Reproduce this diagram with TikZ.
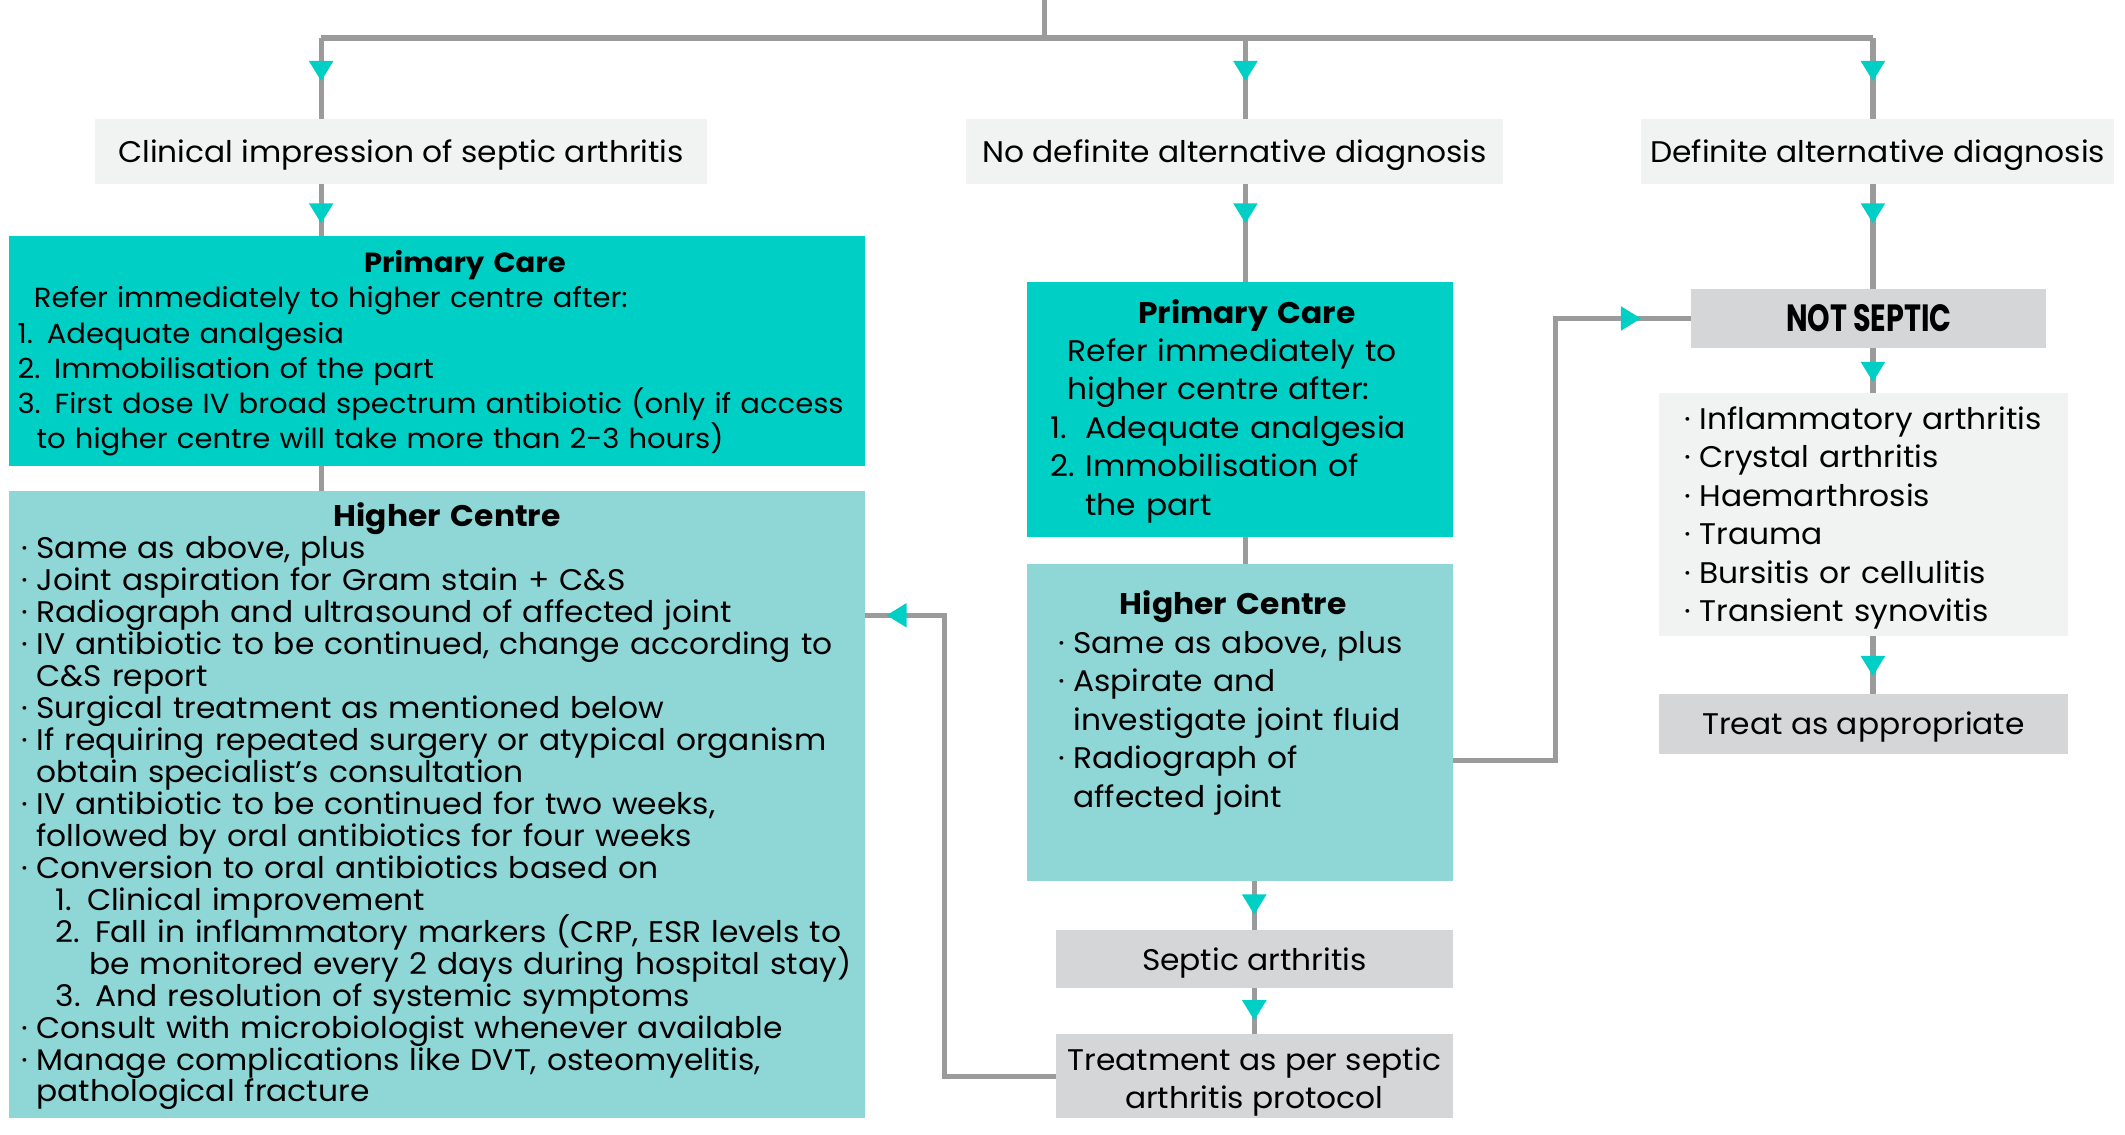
\documentclass[tikz,border=0pt]{standalone}
\usepackage{fontspec}
\setmainfont{Poppins}[FakeStretch=1.05]
\usepackage{tikz}
\usetikzlibrary{arrows.meta,decorations.markings}

\definecolor{tealdark}{HTML}{00CFC6}
\definecolor{teallight}{HTML}{8FD6D6}
\definecolor{greypale}{HTML}{F1F2F2}
\definecolor{greymid}{HTML}{D5D6D8}
\definecolor{wiregrey}{HTML}{9B9B9B}

\newcommand{\bul}{\makebox[5.5pt][l]{·}}
\newcommand{\ind}{\hspace*{5.5pt}}
\newcommand{\tstrut}[1]{\rule{0pt}{#1}}
\newcommand{\setfs}[2]{\fontsize{#1}{#2}\selectfont\lineskiplimit=-10pt}

\tikzset{
  box/.style={anchor=north west, inner sep=0pt, outer sep=0pt, font=\setfs{11}{13}},
  pale/.style={box, fill=greypale},
  mid/.style={box, fill=greymid},
  pcare/.style={box, fill=tealdark, align=left},
  hcentre/.style={box, fill=teallight, align=left},
  wire/.style={draw=wiregrey, line width=1.9pt},
  flow/.style={wire, postaction={decorate}, decoration={markings,
    mark=at position #1 with {\arrow{Triangle[width=8.5pt,length=7.5pt,color=tealdark]}}}}
}

\begin{document}
\begin{tikzpicture}[x=0.5pt, y=-0.5pt]
    \useasboundingbox (0,0) rectangle (1568,837);
    \node[pale, minimum width=226pt, minimum height=24pt] (clin) at (70,88) {\tstrut{11.1pt}Clinical impression of septic arthritis};
    \node[pale, minimum width=198pt, minimum height=24pt] (nodef) at (713,88) {\tstrut{11.1pt}No definite alternative diagnosis};
    \node[pale, minimum width=174.5pt, minimum height=24pt] (defalt) at (1211,88) {\tstrut{11.1pt}Definite alternative diagnosis};
    \node[pcare, text width=309.5pt, inner xsep=3pt, minimum height=85pt, font=\setfs{10.2}{13}] (lpc) at (7,174)
        {\makebox[\linewidth]{\hspace*{20.5pt}\tstrut{10pt}\textbf{Primary Care}}\\
         \hspace*{6pt}Refer immediately to higher centre after:\\
         1. Adequate analgesia\\
         2. Immobilisation of the part\\
         \mbox{3. First dose IV broad spectrum antibiotic (only if access}\\
         \hspace*{7pt}\mbox{to higher centre will take more than 2-3 hours)}};
    \node[hcentre, text width=306.5pt, inner xsep=4.5pt, minimum height=231.5pt, font=\setfs{11}{11.8}] (lhc) at (7,362)
        {\makebox[\linewidth]{\hspace*{7.5pt}\tstrut{10.2pt}\textbf{Higher Centre}}\\
         \bul Same as above, plus\\
         \bul Joint aspiration for Gram stain + C\&S\\
         \bul Radiograph and ultrasound of affected joint\\
         \bul \mbox{IV antibiotic to be continued, change according to}\\
         \ind C\&S report\\
         \bul Surgical treatment as mentioned below\\
         \bul \mbox{If requiring repeated surgery or atypical organism}\\
         \ind obtain specialist’s consultation\\
         \bul IV antibiotic to be continued for two weeks,\\
         \ind followed by oral antibiotics for four weeks\\
         \bul Conversion to oral antibiotics based on\\
         \hspace*{12.5pt}1. Clinical improvement\\
         \hspace*{12.5pt}\mbox{2. Fall in inflammatory markers (CRP, ESR levels to}\\
         \hspace*{25pt}\mbox{be monitored every 2 days during hospital stay)}\\
         \hspace*{12.5pt}3. And resolution of systemic symptoms\\
         \bul \mbox{Consult with microbiologist whenever available}\\
         \bul \mbox{Manage complications like DVT, osteomyelitis,}\\
         \ind pathological fracture};
    \node[pcare, text width=140pt, inner xsep=8.5pt, minimum height=94pt, font=\setfs{11}{14.2}] (mpc) at (758,208)
        {\makebox[\linewidth]{\hspace*{5pt}\tstrut{10.2pt}\textbf{Primary Care}}\\
         \hspace*{6.5pt}Refer immediately to\\
         \hspace*{6.5pt}higher centre after:\\
         \makebox[13pt][l]{1.}\mbox{Adequate analgesia}\\
         \makebox[13pt][l]{2.}Immobilisation of\\
         \hspace*{13pt}the part};
    \node[hcentre, text width=134pt, inner xsep=11.5pt, minimum height=117pt, font=\setfs{11}{14.2}] (mhc) at (758,416)
        {\makebox[\linewidth]{\hspace*{-5pt}\textbf{Higher Centre}}\\
         \bul Same as above, plus\\
         \bul Aspirate and\\
         \ind \mbox{investigate joint fluid}\\
         \bul Radiograph of\\
         \ind affected joint\\[3pt]\mbox{}};
    \node[mid, minimum width=146.5pt, minimum height=21.5pt] (septic) at (779,686) {\tstrut{11.1pt}Septic arthritis};
    \node[mid, minimum width=146.5pt, minimum height=31pt, align=center, font=\setfs{11}{14}] (treat) at (779,763) {\tstrut{12.6pt}Treatment as per septic\\arthritis protocol};
    \node[mid, minimum width=131pt, minimum height=22pt] (notsep) at (1248,213) {\scalebox{0.72}[1]{\fontsize{14}{16}\selectfont\bfseries NOT SEPTIC}};
    \node[pale, text width=132pt, inner xsep=9.5pt, minimum height=89.5pt, align=left, font=\setfs{11}{14.2}] (alts) at (1224,290)
        {\tstrut{11.1pt}\bul Inflammatory arthritis\\
         \bul Crystal arthritis\\
         \bul Haemarthrosis\\
         \bul Trauma\\
         \bul Bursitis or cellulitis\\
         \bul Transient synovitis};
    \node[mid, minimum width=151pt, minimum height=22pt] (approp) at (1224,512) {\tstrut{11.1pt}Treat as appropriate};

    \coordinate (top) at (771,0);
    \coordinate (split) at (771,28);
    \coordinate (lx) at (237,28);
    \coordinate (mx) at (919,28);
    \coordinate (rx) at (1382,28);
    \coordinate (back) at (697,454);
    \coordinate (fork) at (1148,561);

    \draw[wire] (top) -- (split);
    \draw[wire] (lx) -- (rx);
    \draw[flow=16pt] (lx) -- (lx |- clin.north);
    \draw[flow=14.5pt] (lx |- clin.south) -- (lx |- lpc.north);
    \draw[wire] (lx |- lpc.south) -- (lx |- lhc.north);
    \draw[flow=16pt] (mx) -- (mx |- nodef.north);
    \draw[flow=14.5pt] (mx |- nodef.south) -- (mx |- mpc.north);
    \draw[wire] (mx |- mpc.south) -- (mx |- mhc.north);
    \draw[flow=12.5pt] (septic.north |- mhc.south) -- (septic.north);
    \draw[flow=12pt] (septic.south) -- (treat.north);
    \draw[flow=-8pt] (treat.west) -| (back) -- (back -| lhc.east);
    \draw[flow=16pt] (rx) -- (rx |- defalt.north);
    \draw[flow=14.5pt] (rx |- defalt.south) -- (rx |- notsep.north);
    \draw[flow=12.5pt] (rx |- notsep.south) -- (rx |- alts.north);
    \draw[flow=15pt] (rx |- alts.south) -- (rx |- approp.north);
    \draw[flow=-18.5pt] (fork -| mhc.east) -- (fork) |- (notsep.west);
\end{tikzpicture}
\end{document}
